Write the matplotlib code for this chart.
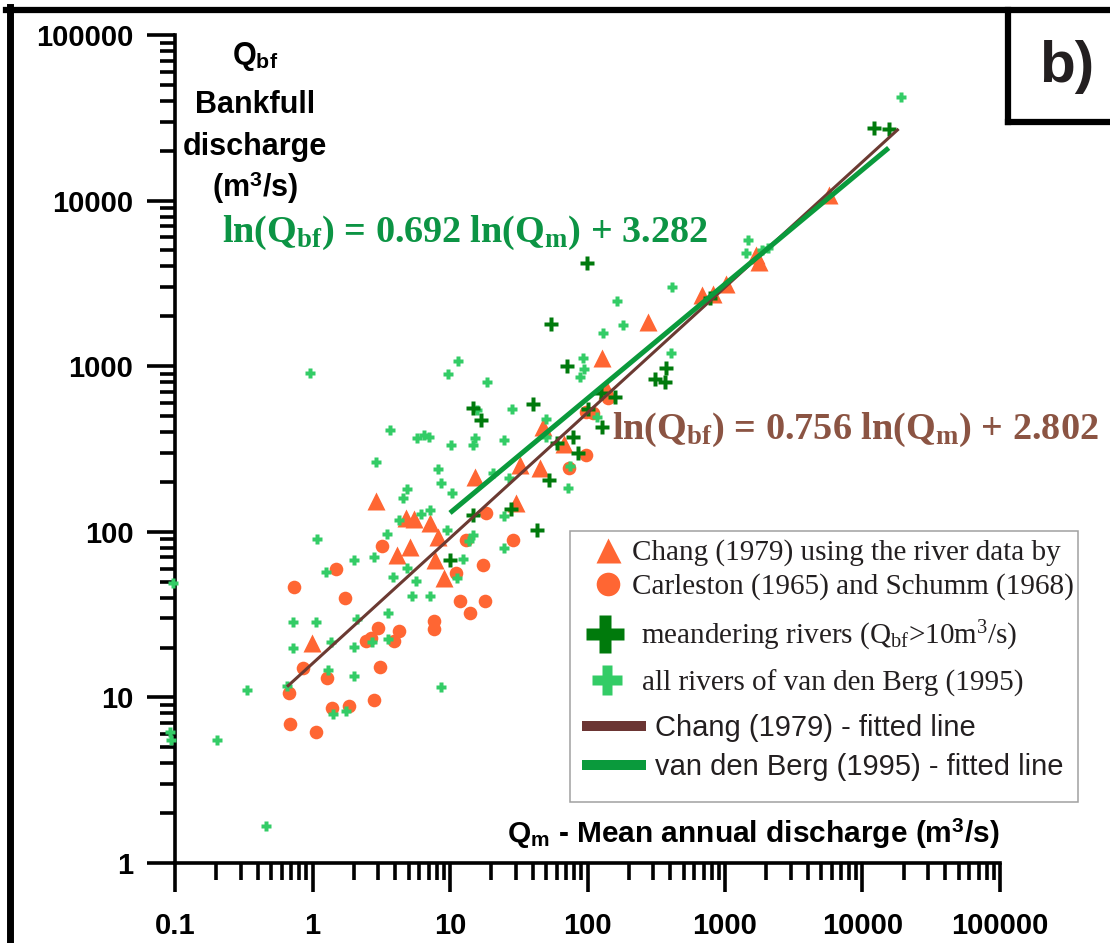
import matplotlib
matplotlib.use('Agg')
import matplotlib.pyplot as plt
from matplotlib.lines import Line2D
from matplotlib.patches import Rectangle
from matplotlib.ticker import NullFormatter, LogLocator

plt.rcParams['mathtext.fontset'] = 'custom'
plt.rcParams['mathtext.rm'] = 'Liberation Serif'
plt.rcParams['mathtext.it'] = 'Liberation Serif:italic'
plt.rcParams['mathtext.bf'] = 'Liberation Serif:bold'
plt.rcParams['mathtext.sf'] = 'Liberation Sans:bold'

# Chang (1979) triangles: Qm, Qbf (m3/s)
tri_x = [0.993, 2.9, 4.13, 4.8, 5.49, 5.13, 7.18, 7.8, 8.21, 9.07, 15.3, 30.3, 32.4, 45.3, 47.7,
         67.8, 128, 139, 277, 685, 823, 1010, 1690, 1780, 5660]
tri_y = [21.3, 153, 72.4, 121, 119, 80.9, 113, 67.6, 93, 52.6, 214, 149, 253, 243, 429,
         339, 1120, 718, 1850, 2690, 2730, 3140, 4690, 4260, 10800]

# Carleston (1965) / Schumm (1968) circles
cir_x = [0.676, 0.687, 0.735, 0.854, 1.06, 1.28, 1.39, 1.49, 1.73, 1.85, 2.46, 2.67, 2.81, 3.0,
         3.1, 3.21, 3.93, 4.27, 7.67, 7.67, 11.1, 11.9, 13.1, 14.0, 17.4, 18.0, 18.3, 28.8,
         73.7, 98.0, 98.0, 110, 137, 142]
cir_y = [10.6, 6.91, 46.4, 15.0, 6.18, 13.1, 8.63, 59.6, 39.8, 8.87, 21.9, 22.8, 9.64, 26.2,
         15.3, 82.1, 21.9, 25.2, 28.9, 25.9, 56.4, 38.2, 89.2, 32.3, 63.0, 38.2, 130, 89.2,
         243, 291, 529, 522, 689, 643]

# meandering rivers (Qbf > 10 m3/s)
mea_x = [10, 14.8, 16.9, 14.8, 27.9, 40.3, 43.1, 52.7, 54.5, 60.3, 71.3, 78.8, 85.7, 99.7,
         101, 126, 128, 159, 311, 375, 368, 783, 12200, 15500]
mea_y = [67.6, 559, 473, 126, 137, 591, 103, 205, 1800, 344, 1000, 374, 299, 4200,
         552, 689, 429, 652, 837, 975, 803, 2580, 27400, 27100]

# all rivers of van den Berg (1995)
all_x = [0.092, 0.0935, 0.0967, 0.202, 0.334, 0.46, 0.653, 0.722, 0.722, 0.961,
         1.06, 1.08, 1.26, 1.3, 1.37, 1.41, 1.76, 2.01, 2.01, 2.01,
         2.11, 2.72, 2.81, 2.9, 3.49, 3.55, 3.55, 3.67, 3.86, 4.27,
         4.56, 4.88, 4.88, 5.31, 5.68, 5.77, 6.17, 6.49, 7.06, 7.18,
         7.18, 8.21, 8.63, 8.63, 9.54, 9.7, 10.2, 10.4, 11.3, 11.5,
         12.5, 13.8, 14.8, 15.3, 14.8, 15.8, 18.7, 20.6, 24.8, 24.8,
         24.8, 27, 28.4, 50.1, 50.1, 72.5, 75, 88.6, 93.2, 94.8,
         118, 130, 165, 182, 407, 414, 1410, 1480, 1870, 2040, 18900]
all_y = [6.18, 5.53, 49.1, 5.53, 11.1, 1.67, 11.7, 28.5, 19.9, 910,
         28.5, 90.5, 57.2, 14.6, 21.6, 7.94, 8.28, 67.6, 20.2, 13.5,
         29.7, 21.6, 70.4, 264, 97, 32.3, 22.5, 412, 53.3, 118,
         160, 181, 60.5, 41, 50.5, 368, 128, 384, 374, 135,
         41, 239, 197, 11.6, 103, 897, 334, 172, 52.6, 1070,
         68.5, 88, 334, 368, 95.6, 544, 803, 227, 358, 125,
         79.8, 211, 552, 480, 374, 184, 250, 861, 1120, 962,
         493, 1590, 2480, 1770, 1200, 3010, 4830, 5780, 5030, 5170, 42200]

# fitted lines, end points
chang_x = [0.653, 18300]
chang_y = [11.6, 27100]
berg_x = [10, 15500]
berg_y = [130, 20800]

orange = '#ff6633'
light = '#33cc66'
dark = '#007a0c'
brown = '#6b3a32'
green = '#0a9a3c'

W, H = 1110, 943
fig = plt.figure(figsize=(W / 100, H / 100), dpi=100)
ax = fig.add_axes([175 / W, 80 / H, 825 / W, 828 / H])
ax.set_xscale('log')
ax.set_yscale('log')
ax.set_xlim(0.1, 1e5)
ax.set_ylim(1, 1e5)

ax.plot(cir_x, cir_y, 'o', ms=9.8, color=orange, mec='none', clip_on=False, zorder=3)
ax.plot(tri_x, tri_y, '^', ms=12.5, color=orange, mec='none', clip_on=False, zorder=3)
ax.plot(all_x, all_y, 'P', ms=7.5, color=light, mec='none', clip_on=False, zorder=4)
ax.plot(mea_x, mea_y, 'P', ms=10, color=dark, mec='none', clip_on=False, zorder=5)
ax.plot(chang_x, chang_y, color=brown, lw=2.2, zorder=6, solid_capstyle='butt')
ax.plot(berg_x, berg_y, color=green, lw=3.6, zorder=6, solid_capstyle='butt')

for s in ['top', 'right']:
    ax.spines[s].set_visible(False)
for s in ['left', 'bottom']:
    ax.spines[s].set_linewidth(2.6)

tick_font = {'family': 'Liberation Sans', 'weight': 'bold', 'size': 21}
ax.set_xticks([0.1, 1, 10, 100, 1000, 10000, 100000],
              labels=['0.1', '1', '10', '100', '1000', '10000', '100000'], fontdict=tick_font)
ax.set_yticks([1, 10, 100, 1000, 10000, 100000],
              labels=['1', '10', '100', '1000', '10000', '100000'], fontdict=tick_font)
ax.xaxis.set_minor_locator(LogLocator(base=10, subs=range(2, 10), numticks=20))
ax.yaxis.set_minor_locator(LogLocator(base=10, subs=range(2, 10), numticks=20))
ax.xaxis.set_minor_formatter(NullFormatter())
ax.yaxis.set_minor_formatter(NullFormatter())
ax.tick_params(axis='y', which='major', length=20, width=2.6, pad=10)
ax.tick_params(axis='y', which='minor', length=11, width=2.6)
ax.tick_params(axis='x', which='major', length=21, width=2.6, pad=14)
ax.tick_params(axis='x', which='minor', length=12, width=2.6)

def fx(px):
    return px / W

def fy(py):
    return 1 - py / H

# axis titles
lab = dict(family='Liberation Sans', weight='bold', size=22, ha='center', va='baseline')
fig.text(fx(255), fy(64), r'Q$_{\mathsf{bf}}$', **lab)
fig.text(fx(255), fy(113), 'Bankfull', **lab)
fig.text(fx(255), fy(155), 'discharge', **lab)
fig.text(fx(255), fy(197), r'(m$^{\mathsf{3}}$/s)', **lab)
fig.text(fx(507), fy(843), r'Q$_{\mathsf{m}}$ - Mean annual discharge (m$^{\mathsf{3}}$/s)',
         family='Liberation Sans', weight='bold', size=21.5, ha='left', va='baseline')

# regression equations
eq = dict(family='Liberation Serif', weight='bold', size=27.5, ha='left', va='baseline')
fig.text(fx(222), fy(242), r'ln(Q$_{\mathbf{bf}}$) = 0.692 ln(Q$_{\mathbf{m}}$) + 3.282', color='#0c9444', **eq)
fig.text(fx(612), fy(439), r'ln(Q$_{\mathbf{bf}}$) = 0.756 ln(Q$_{\mathbf{m}}$) + 2.802', color='#8b5443', **eq)

# legend: one small legend per row so the uneven spacing can be kept
serif = {'family': 'Liberation Serif', 'size': 21}
sans = {'family': 'Liberation Sans', 'size': 21}
rows = [
    (Line2D([], [], ls='none', marker='^', ms=18, color=orange, mec='none'),
     'Chang (1979) using the river data by', serif, 593, 553, 1.0, 0.32),
    (Line2D([], [], ls='none', marker='o', ms=17, color=orange, mec='none'),
     'Carleston (1965) and Schumm (1968)', serif, 593, 587, 1.0, 0.32),
    (Line2D([], [], ls='none', marker='P', ms=27, color=dark, mec='none'),
     r'meandering rivers (Q$_{\mathrm{bf}}$>10m$^{\mathrm{3}}$/s)', serif, 585, 636, 1.4, 0.53),
    (Line2D([], [], ls='none', marker='P', ms=21.5, color=light, mec='none'),
     'all rivers of van den Berg (1995)', serif, 587, 683, 1.4, 0.47),
    (Line2D([], [], color='#6b3533', lw=7.2, solid_capstyle='butt'),
     'Chang (1979) - fitted line', sans, 582, 728, 2.19, 0.31),
    (Line2D([], [], color=green, lw=7.2, solid_capstyle='butt'),
     'van den Berg (1995) - fitted line', sans, 582, 767, 2.19, 0.31),
]
for h, t, font, x0, yc, hl, tp in rows:
    fig.legend([h], [t], loc='center left', bbox_to_anchor=(fx(x0), fy(yc)),
               bbox_transform=fig.transFigure, frameon=False, borderpad=0,
               borderaxespad=0, handlelength=hl, handletextpad=tp, prop=font,
               labelcolor='#231f20', numpoints=1)
fig.add_artist(Rectangle((fx(570), fy(802)), fx(1078) - fx(570), fy(531) - fy(802),
                         transform=fig.transFigure, fill=False, ec='#a0a0a0', lw=1.1))

# outer frame and panel letter
fig.add_artist(Line2D([fx(9.5), fx(9.5)], [0, fy(7)], transform=fig.transFigure, color='black', lw=5, solid_capstyle='projecting'))
fig.add_artist(Line2D([fx(6), 1], [fy(10), fy(10)], transform=fig.transFigure, color='black', lw=4.5))
fig.add_artist(Line2D([fx(1008), fx(1008)], [fy(10), fy(121.5)], transform=fig.transFigure, color='black', lw=4.5, solid_capstyle='projecting'))
fig.add_artist(Line2D([fx(1008), 1], [fy(121.5), fy(121.5)], transform=fig.transFigure, color='black', lw=4.5))
fig.text(fx(1039), fy(82), 'b)', family='Liberation Sans', weight='bold', size=42, ha='left', va='baseline', color='#231f20')

fig.savefig('out.png', dpi=100)
